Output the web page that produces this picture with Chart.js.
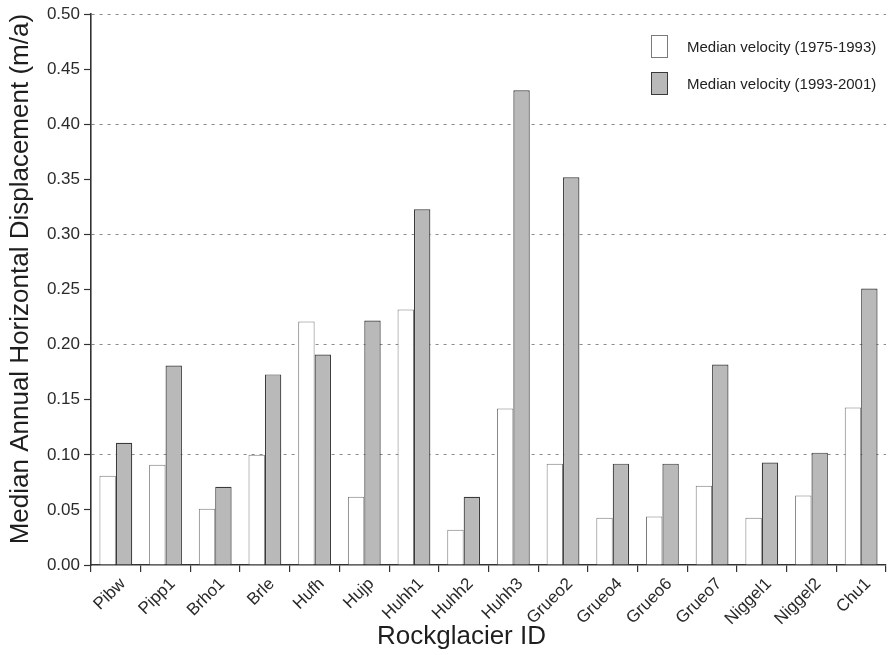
<!DOCTYPE html>
<html>
<head>
<meta charset="utf-8">
<script src="https://cdn.jsdelivr.net/npm/chart.js@4.4.1/dist/chart.umd.min.js"></script>
<style>
  html, body { margin: 0; padding: 0; background: #fff; }
  #wrap { width: 891px; height: 655px; position: relative; }
</style>
</head>
<body>
<div id="wrap"><canvas id="c" width="891" height="655"></canvas></div>
<script>
const categories = ['Pibw','Pipp1','Brho1','Brle','Hufh','Hujp','Huhh1','Huhh2','Huhh3','Grueo2','Grueo4','Grueo6','Grueo7','Niggel1','Niggel2','Chu1'];
const series1Label = 'Median velocity (1975-1993)';
const series2Label = 'Median velocity (1993-2001)';
const v1975_1993 = [0.081,0.091,0.051,0.100,0.221,0.062,0.232,0.032,0.142,0.092,0.043,0.044,0.072,0.043,0.063,0.143];
const v1993_2001 = [0.111,0.181,0.071,0.173,0.191,0.222,0.323,0.062,0.431,0.352,0.092,0.092,0.182,0.093,0.102,0.251];
const yTicksMin = 0, yTicksMax = 0.5, yTickStep = 0.05;
const xAxisTitle = 'Rockglacier ID';
const yAxisTitle = 'Median Annual Horizontal Displacement (m/a)';

const FONT = "'Liberation Sans', Arial, Helvetica, sans-serif";

const legendPlugin = {
  id: 'boxLegend',
  afterDraw(chart) {
    const ctx = chart.ctx;
    const ca = chart.chartArea;
    const bx = ca.right - 235;
    const rows = [35, 72];
    ctx.save();
    chart.data.datasets.forEach((ds, i) => {
      const y = rows[i];
      ctx.fillStyle = ds.backgroundColor;
      ctx.fillRect(bx, y, 16, 22);
      ctx.strokeStyle = ds.borderColor;
      ctx.lineWidth = 1;
      ctx.strokeRect(bx + 0.5, y + 0.5, 16, 22);
      ctx.fillStyle = '#222';
      ctx.font = '15px ' + FONT;
      ctx.textBaseline = 'middle';
      ctx.textAlign = 'left';
      ctx.fillText(ds.label, bx + 36, y + 13);
    });
    ctx.restore();
  }
};

// axis titles placed like the reference (slightly off-centre)
const axisTitlePlugin = {
  id: 'axisTitles',
  afterDraw(chart) {
    const ctx = chart.ctx;
    const ca = chart.chartArea;
    ctx.save();
    ctx.fillStyle = '#1e1e1e';
    ctx.font = '26px ' + FONT;
    ctx.textAlign = 'center';
    ctx.textBaseline = 'middle';
    ctx.fillText(xAxisTitle, ca.left + (ca.right - ca.left) * 0.466, chart.height - 18);
    ctx.translate(21, ca.top + (ca.bottom - ca.top) * 0.481);
    ctx.rotate(-Math.PI / 2);
    ctx.fillText(yAxisTitle, 0, 0);
    ctx.restore();
  }
};

new Chart(document.getElementById('c'), {
  type: 'bar',
  data: {
    labels: categories,
    datasets: [
      { label: series1Label, data: v1975_1993, backgroundColor: '#ffffff', borderColor: '#7a7a7a', borderWidth: 1, categoryPercentage: 0.66, barPercentage: 1.0 },
      { label: series2Label, data: v1993_2001, backgroundColor: '#b9b9b9', borderColor: '#3a3a3a', borderWidth: 1.2, categoryPercentage: 0.66, barPercentage: 1.0 }
    ]
  },
  options: {
    responsive: false,
    animation: false,
    devicePixelRatio: 1,
    layout: { padding: { top: 13, right: 5, left: 0, bottom: 0 } },
    plugins: {
      legend: { display: false },
      tooltip: { enabled: false }
    },
    scales: {
      x: {
        grid: { display: true, offset: true, drawOnChartArea: false, drawTicks: true, tickLength: 7, color: '#333', tickColor: '#333', lineWidth: 1.2 },
        border: { display: true, color: '#333', width: 1.6 },
        ticks: { color: '#2a2a2a', font: { family: FONT, size: 17 }, minRotation: 45, maxRotation: 45, autoSkip: false, padding: 2, labelOffset: 7 },
        title: { display: false, text: xAxisTitle },
        afterFit(scale) { scale.height = 90; }
      },
      y: {
        min: yTicksMin,
        max: yTicksMax,
        grid: {
          drawTicks: true,
          tickLength: 7,
          lineWidth: 1,
          color(ctx) {
            const v = ctx.tick ? ctx.tick.value : 0;
            const k = Math.round(v * 100);
            return (k > 0 && k % 10 === 0) ? '#8a8a8a' : 'rgba(0,0,0,0)';
          },
          tickColor: '#333',
          tickWidth: 1.2
        },
        border: { display: true, color: '#333', width: 1.6, dash: [3, 5] },
        ticks: {
          stepSize: yTickStep,
          color: '#2a2a2a',
          font: { family: FONT, size: 17 },
          padding: 4,
          callback: (v) => Number(v).toFixed(2)
        },
        title: { display: false, text: yAxisTitle },
        afterFit(scale) { scale.width = 91; }
      }
    }
  },
  plugins: [legendPlugin, axisTitlePlugin]
});
</script>
</body>
</html>
